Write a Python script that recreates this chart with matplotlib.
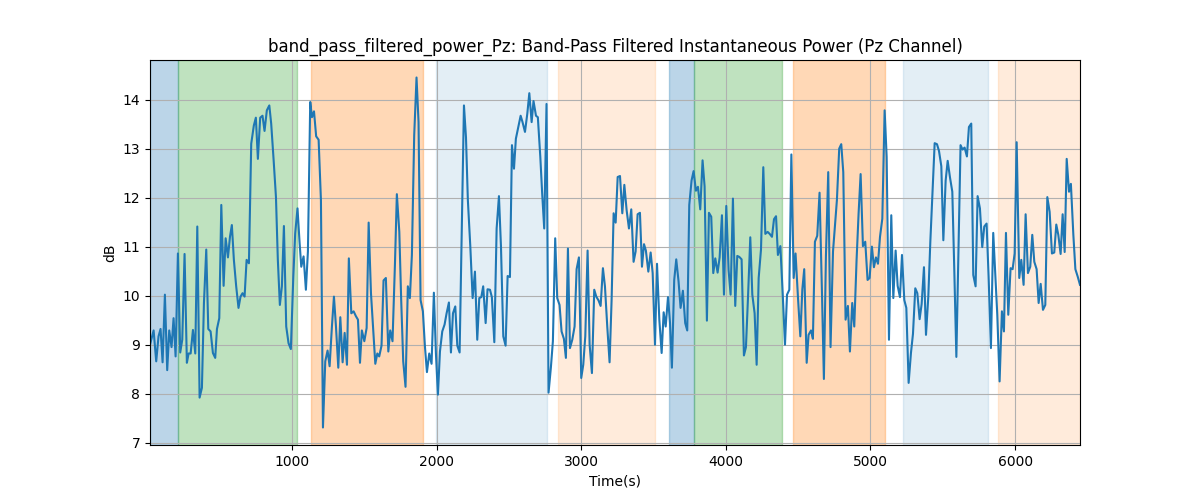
import numpy as np
import matplotlib
matplotlib.use('Agg')
import matplotlib.pyplot as plt

# time samples (s) and power (dB)
times = [18, 43, 61, 77, 91, 105, 121, 137, 151, 167, 181, 195, 211, 227, 241, 257, 273, 285, 299, 315,
         331, 345, 361, 377, 391, 407, 421, 437, 453, 469, 481, 497, 511, 527, 541, 557, 571, 584, 598, 614,
         630, 644, 658, 672, 686, 702, 718, 736,
         750, 764, 780, 796, 810, 826, 843, 856, 873, 889, 902, 916, 930, 944, 960, 976, 992, 1009, 1022, 1038,
         1052, 1064, 1080, 1096, 1110, 1126, 1138, 1152, 1167, 1184, 1200, 1214, 1230, 1246, 1260, 1276, 1290,
         1304, 1320, 1334, 1350, 1364, 1380, 1393, 1410, 1426, 1442, 1456,
         1470, 1483, 1500, 1516, 1530, 1546, 1562, 1576, 1590, 1603, 1619, 1633, 1649, 1666, 1679, 1695, 1712,
         1725, 1742, 1755, 1769, 1785, 1801, 1815, 1829, 1845, 1861, 1875, 1889, 1905, 1919, 1933, 1949, 1965,
         1981, 1995, 2009, 2023, 2039, 2055, 2069, 2085, 2099, 2113, 2129, 2143, 2159,
         2189, 2203, 2216, 2233, 2249, 2265, 2281, 2295, 2309, 2322, 2339, 2352, 2369, 2382, 2399, 2415, 2431,
         2445, 2461, 2477, 2491, 2507, 2521, 2535, 2548, 2565, 2581, 2594, 2611, 2627, 2641, 2657, 2670, 2687,
         2700, 2717, 2730, 2744, 2760, 2774, 2790, 2804, 2820, 2834, 2850, 2864, 2880, 2894,
         2908, 2922, 2938, 2954, 2968, 2984, 3000, 3014, 3028, 3044, 3058, 3074, 3090, 3104, 3120, 3134, 3150,
         3164, 3180, 3196, 3210, 3224, 3238, 3252, 3268, 3284, 3298, 3314, 3330, 3346, 3362, 3376, 3390, 3406,
         3420, 3434, 3447, 3464, 3480, 3494, 3510, 3524, 3540, 3556, 3570, 3584, 3600,
         3614, 3627, 3643, 3657, 3673, 3687, 3703, 3719, 3733, 3747, 3763, 3777, 3793, 3807, 3823, 3839, 3853,
         3869, 3883, 3899, 3913, 3927, 3943, 3957, 3973, 3987, 4003, 4019, 4033, 4049, 4065, 4079, 4093, 4109,
         4125, 4139, 4153, 4169, 4183, 4199, 4213, 4227, 4243, 4259, 4273, 4289, 4303, 4319, 4333,
         4347, 4360, 4377, 4393, 4409, 4423, 4439, 4453, 4469, 4482, 4499, 4515, 4529, 4542, 4559, 4572, 4589,
         4602, 4616, 4632, 4648, 4665, 4678, 4692, 4708, 4724, 4741, 4754, 4768, 4784, 4798, 4812, 4828, 4844,
         4858, 4874, 4888, 4904, 4918, 4932, 4948, 4964, 4980, 4994, 5010, 5024, 5038, 5052,
         5066, 5082, 5098, 5112, 5128, 5144, 5158, 5174, 5188, 5204, 5218, 5234, 5248, 5264, 5280, 5294, 5310,
         5324, 5340, 5354, 5370, 5384, 5400, 5414, 5430, 5444, 5460, 5474, 5490, 5504, 5520, 5534, 5550, 5566,
         5580, 5594, 5610, 5623, 5637, 5651, 5667, 5681, 5697, 5711, 5727, 5741, 5757,
         5773, 5787, 5803, 5817, 5833, 5849, 5863, 5877, 5893, 5909, 5923, 5937, 5953, 5969, 5983, 5997, 6011,
         6029, 6043, 6059, 6073, 6089, 6105, 6119, 6133, 6149, 6163, 6177, 6193, 6209, 6223, 6239, 6255, 6271,
         6285, 6299, 6315, 6329, 6343, 6357, 6373, 6386, 6403, 6417, 6433, 6449]

power_db = [9.00, 9.29, 8.66, 9.17, 9.32, 8.64, 10.02, 8.48, 9.29, 8.95, 9.54, 8.76, 10.86, 8.84, 9.10, 10.85,
            8.63, 8.82, 8.82, 9.30, 8.82, 11.41, 7.92, 8.12, 9.85, 10.94, 9.32, 9.27, 8.83, 8.73, 9.32, 9.54,
            11.85, 10.20, 11.17, 10.78, 11.20, 11.44, 10.73, 10.19, 9.75, 9.98, 10.05, 9.98, 10.73, 10.66, 13.10,
            13.47,
            13.63, 12.79, 13.63, 13.67, 13.36, 13.78, 13.88, 13.51, 12.76, 12.01, 10.73, 9.81, 10.19, 11.42, 9.37,
            9.03, 8.91, 10.39, 11.27, 11.78, 11.10, 10.59, 10.80, 10.12, 10.90, 13.95, 13.64, 13.76, 13.25, 13.18,
            11.95, 7.31, 8.66, 8.88, 8.56, 9.37, 9.98, 9.37, 8.53, 9.56, 8.64, 9.24, 8.59, 10.76, 9.64, 9.68,
            9.58, 9.51,
            8.63, 9.29, 9.07, 9.34, 11.49, 10.05, 9.30, 8.61, 8.82, 8.76, 8.98, 10.31, 10.36, 8.86, 9.29, 9.07,
            10.66, 12.07, 11.30, 9.91, 8.66, 8.14, 10.19, 9.95, 10.83, 13.27, 14.45, 13.54, 9.91, 9.68, 8.97,
            8.44, 8.82, 8.61, 10.06, 8.83, 7.98, 8.86, 9.27, 9.41, 9.64, 9.86, 8.84, 9.64, 9.78, 8.98, 8.84,
            13.88, 13.23, 11.95, 11.00, 9.95, 10.49, 9.10, 9.95, 9.97, 10.19, 9.44, 10.13, 10.12, 9.97, 9.05,
            11.37, 12.03, 11.00, 9.17, 8.98, 10.40, 10.38, 13.07, 12.59, 13.20, 13.44, 13.67, 13.54, 13.34, 13.71,
            14.13, 13.54, 13.97, 13.67, 13.64, 12.83, 12.08, 11.37, 13.91, 8.02, 8.53, 9.07, 11.17, 9.95, 9.81,
            9.27, 9.12, 8.73,
            10.96, 8.93, 9.10, 9.37, 10.54, 10.78, 8.32, 8.59, 9.17, 10.92, 9.00, 8.42, 10.12, 9.98, 9.90, 9.79,
            10.56, 10.19, 9.37, 8.64, 9.91, 11.68, 11.49, 12.42, 12.44, 11.68, 12.26, 11.74, 11.37, 11.76, 10.69,
            10.90, 11.66, 11.69, 10.59, 11.05, 10.92, 10.49, 10.88, 10.46, 9.00, 10.65, 9.51, 8.83, 9.66, 9.37,
            9.97,
            9.44, 8.53, 10.32, 10.74, 10.29, 9.75, 10.10, 9.44, 9.29, 11.85, 12.35, 12.54, 12.14, 12.22, 11.76,
            12.76, 12.23, 9.49, 11.69, 11.61, 10.46, 10.76, 10.47, 10.78, 11.64, 10.02, 11.83, 10.52, 10.02,
            11.98, 9.79, 10.81, 10.79, 10.74, 8.78, 8.95, 9.95, 11.19, 10.02, 9.64, 8.59, 10.36, 10.94, 12.62,
            11.26, 11.30, 11.26, 11.20, 11.56,
            11.62, 10.83, 11.01, 10.05, 9.00, 10.02, 10.12, 12.88, 10.36, 10.86, 9.95, 9.17, 10.13, 10.54, 8.63,
            9.20, 9.29, 9.12, 11.10, 11.22, 12.10, 10.02, 8.30, 10.80, 12.52, 8.95, 10.90, 11.41, 11.95, 13.00,
            13.09, 12.52, 9.51, 9.79, 8.86, 9.85, 9.37, 10.73, 11.68, 12.48, 11.01, 11.10, 10.32, 10.36, 11.00,
            10.58, 10.78, 10.65,
            11.20, 11.57, 13.78, 12.83, 9.10, 11.64, 9.95, 10.92, 10.20, 9.97, 10.83, 9.91, 9.75, 8.22, 8.83,
            9.22, 10.15, 10.05, 9.52, 9.83, 10.58, 9.20, 9.98, 11.10, 12.15, 13.11, 13.09, 12.95, 12.64, 11.13,
            12.35, 12.75, 12.41, 12.12, 10.49, 8.75, 11.08, 13.07, 12.98, 13.02, 12.84, 13.44, 13.51, 10.42,
            10.19, 12.03, 11.78,
            10.99, 11.41, 11.47, 10.39, 8.93, 11.28, 10.46, 9.61, 8.25, 9.68, 9.27, 11.28, 9.61, 10.56, 10.54,
            10.86, 13.13, 10.36, 10.73, 10.22, 11.66, 10.46, 10.59, 11.24, 10.69, 10.54, 9.85, 10.24, 9.71, 9.81,
            12.01, 11.71, 10.86, 10.88, 11.45, 11.24, 10.85, 11.66, 10.89, 12.79, 12.12, 12.28, 11.24, 10.54,
            10.39, 10.22]

# shaded segments
span_start = [18, 214, 1131, 1995, 2837, 3609, 3777, 4464, 5225, 5882]
span_end = [214, 1034, 1908, 2761, 3510, 3777, 4386, 5098, 5813, 6449]
span_color = ['tab:blue', 'tab:green', 'tab:orange', 'tab:blue', 'tab:orange',
              'tab:blue', 'tab:green', 'tab:orange', 'tab:blue', 'tab:orange']
span_alpha = [0.3, 0.3, 0.3, 0.12, 0.15, 0.3, 0.3, 0.3, 0.12, 0.15]

fig, ax = plt.subplots(figsize=(12, 5), dpi=100)
for s, e, c, a in zip(span_start, span_end, span_color, span_alpha):
    ax.axvspan(s, e, color=c, alpha=a)
ax.plot(times, power_db, color='tab:blue', linewidth=1.5)
ax.set_xlim(times[0], times[-1])
ax.grid(True)
ax.set_title('band_pass_filtered_power_Pz: Band-Pass Filtered Instantaneous Power (Pz Channel)')
ax.set_xlabel('Time(s)')
ax.set_ylabel('dB')
fig.savefig('out.png')
